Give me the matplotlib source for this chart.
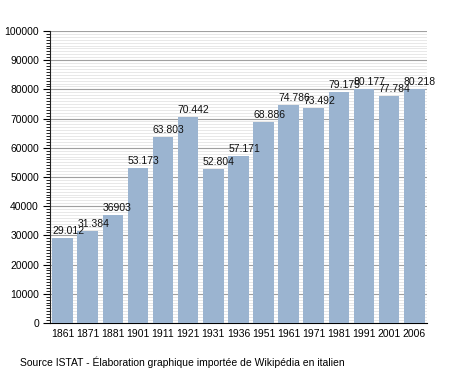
import numpy as np
import matplotlib.pyplot as plt
from matplotlib.ticker import MultipleLocator

plt.rcParams['font.family'] = ['Liberation Sans', 'DejaVu Sans']

annees = ['1861', '1871', '1881', '1901', '1911', '1921', '1931', '1936',
          '1951', '1961', '1971', '1981', '1991', '2001', '2006']
population = [29012, 31384, 36903, 53173, 63803, 70442, 52804, 57171,
              68886, 74786, 73492, 79175, 80177, 77784, 80218]
etiquettes = ['29.012', '31.384', '36903', '53.173', '63.803', '70.442',
              '52.804', '57.171', '68.886', '74.786', '73.492', '79.175',
              '80.177', '77.784', '80.218']

fig = plt.figure(figsize=(4.55, 3.73), dpi=100)
ax = fig.add_axes([0.110, 0.134, 0.828, 0.783])

x = np.arange(len(annees))
largeur = 0.82
ax.bar(x, population, width=largeur, color='#9bb4d0', zorder=3)
for xi, v, t in zip(x, population, etiquettes):
    ax.text(xi - largeur / 2, v + 700, t, ha='left', va='bottom',
            fontsize=7.5, color='#111111', zorder=4)

ax.set_xlim(-0.5, len(annees) - 0.5)
ax.set_ylim(0, 100000)
ax.set_xticks(x)
ax.set_xticklabels(annees, fontsize=7.5)
ax.tick_params(axis='x', length=0, pad=4)
ax.yaxis.set_major_locator(MultipleLocator(10000))
ax.yaxis.set_minor_locator(MultipleLocator(1000))
ax.tick_params(axis='y', which='major', length=5, labelsize=7.5, pad=3)
ax.tick_params(axis='y', which='minor', length=3)
ax.grid(axis='y', which='major', color='#a0a0a0', linewidth=0.8, zorder=1)
ax.grid(axis='y', which='minor', color='#e4e4e4', linewidth=0.6, zorder=0)
for s in ['top', 'right']:
    ax.spines[s].set_visible(False)
ax.spines['left'].set_color('#222222')
ax.spines['bottom'].set_color('#000000')

fig.text(20 / 455, 1 - 362 / 373, "Source ISTAT - Élaboration graphique importée de Wikipédia en italien",
         fontsize=7.5, va='center', ha='left')

fig.savefig('out.png', dpi=100)
